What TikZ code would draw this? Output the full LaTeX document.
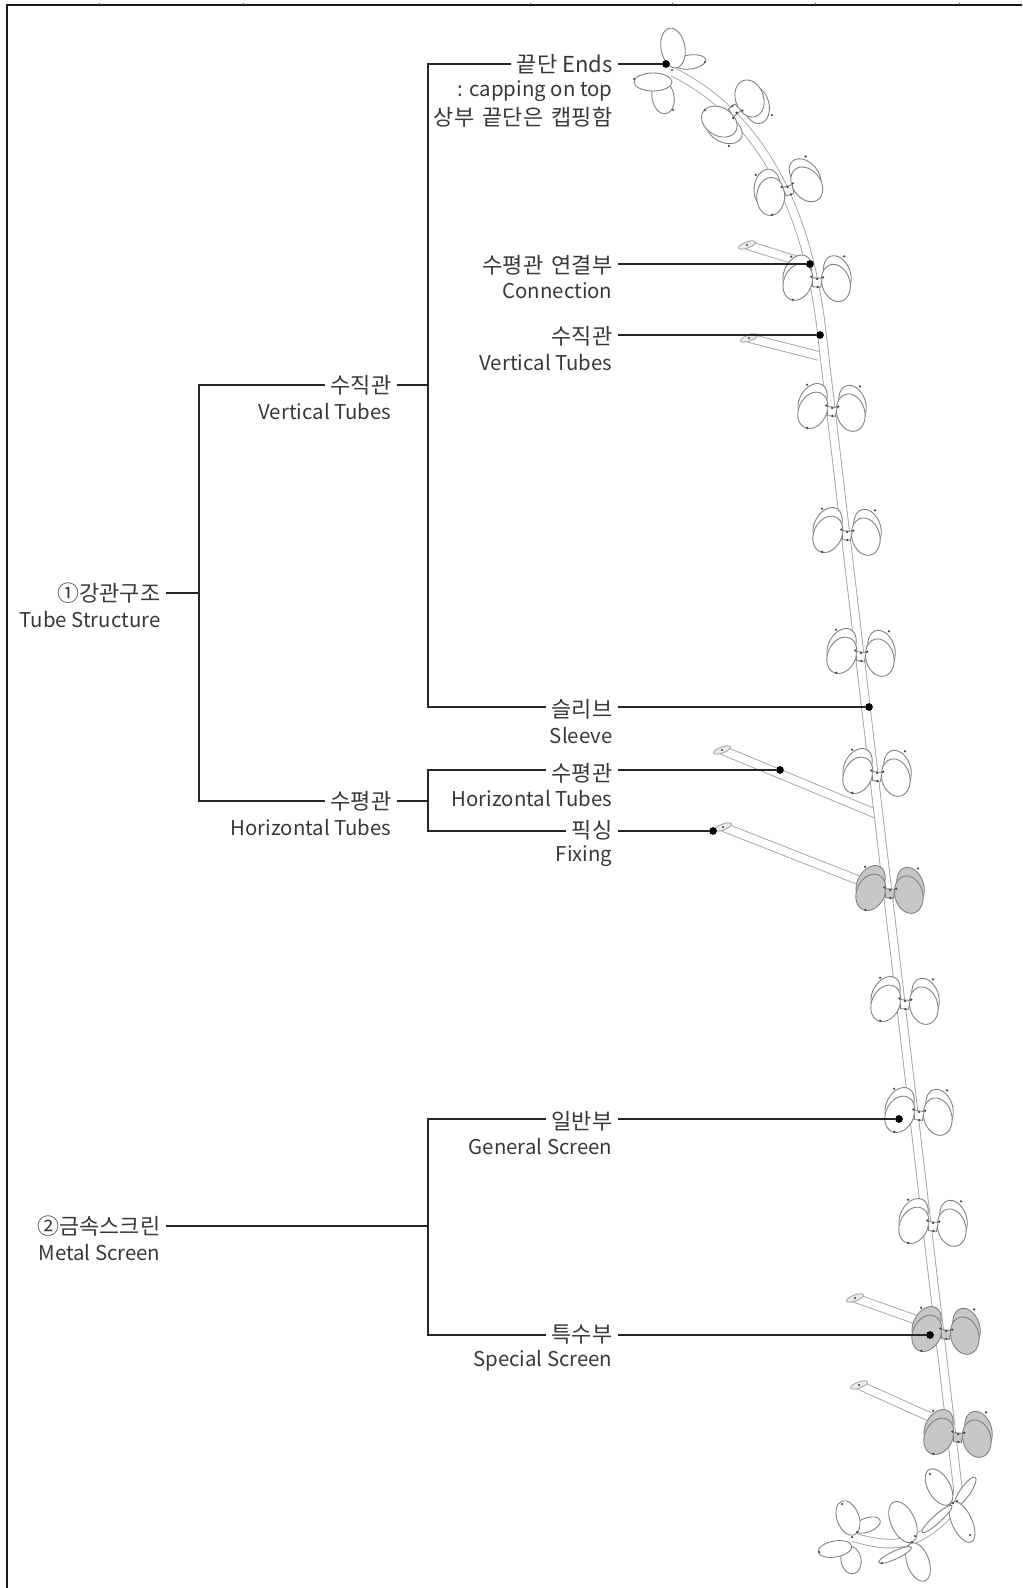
\documentclass[tikz,border=0pt]{standalone}
\usepackage{fontspec}
\setmainfont{Noto Sans CJK KR}
\tikzset{
  lab/.style={anchor=east, inner sep=3pt, text=black!78, font=\fontsize{12.5pt}{14pt}\selectfont},
  laben/.style={lab, font=\fontsize{11.6pt}{14pt}\selectfont},
  con/.style={line width=1.05pt, black!85},
  dotmark/.style={circle, fill=black, inner sep=0pt, minimum size=4.4pt},
  tipmark/.style={circle, fill=black!75, inner sep=0pt, minimum size=1.4pt},
  tube/.style={draw=black!36, line width=0.5pt, double=white, double distance=4.4pt},
  leaf/.style={draw=black!50, line width=0.5pt},
  flange/.style={draw=black!35, fill=black!8, line width=0.5pt},
}
% one pair of leaves: [scope options], x, y, rotation, fill
\newcommand{\leafpair}[5][]{
\begin{scope}[shift={(#2,#3)}, rotate=#4, #1]
\path[leaf, fill=#5] (-20,-6) circle [x radius=13, y radius=19, rotate=-24];
\path[leaf, fill=#5] (20,-7) circle [x radius=13, y radius=19, rotate=24];
\path[leaf, fill=#5] (-19,3) circle [x radius=14, y radius=19, rotate=-20];
\path[leaf, fill=#5] (19,2) circle [x radius=14, y radius=19, rotate=20];
\path[leaf, fill=#5] (-5,-2) -- (5,-2) -- (4,7) -- (-4,7) -- cycle;
\node[tipmark] at (-6,-3) {};
\node[tipmark] at (6,-3) {};
\node[tipmark] at (0,-1) {};
\node[tipmark] at (1,7) {};
\node[tipmark] at (-27,-22) {};
\node[tipmark] at (26,-25) {};
\node[tipmark] at (-23,21) {};
\end{scope}
}
% short side tube with its flange: free end, then tube end
\newcommand{\sidetube}[4]{
\draw[tube] (#1,#2) -- (#3,#4);
\path[flange] (#1,#2) circle [x radius=3, y radius=9, rotate=-70];
\node[tipmark] at (#1,#2) {};
}
\begin{document}
\begin{tikzpicture}[x=0.02cm, y=-0.02cm]
\useasboundingbox (0,0) rectangle (1022,1588);
% frame
\draw[line width=1.1pt, black!90] (7,1588) -- (7,5) -- (1022,5);
\foreach \x in {99,243,530,672,815,959}
  \draw[line width=0.4pt, black!70] (\x,3) -- (\x,5);
% side tubes
\sidetube{747}{245}{808}{264}
\sidetube{749}{338}{819}{356}
\sidetube{722}{750}{879}{815}
\sidetube{723}{827}{858}{880}
\sidetube{855}{1298}{917}{1320}
\sidetube{859}{1385}{930}{1417}
% main tube
\draw[tube] (673,72) .. controls (740,105) and (805,180) .. (822,335)
  -- (958,1490) .. controls (958,1510) and (935,1530) .. (912,1540)
  .. controls (895,1546) and (875,1544) .. (853,1537);
% top flower
\path[leaf, fill=white] (690,62) circle [x radius=16, y radius=7, rotate=8];
\path[leaf, fill=white] (663,97) circle [x radius=11, y radius=17, rotate=10];
\path[leaf, fill=white] (673,48) circle [x radius=12, y radius=20, rotate=10];
\path[leaf, fill=white] (653,82) circle [x radius=19, y radius=9, rotate=0];
\node[tipmark] at (705,62) {};
\node[tipmark] at (673,110) {};
\node[tipmark] at (634,79) {};
\node[tipmark] at (672,70) {};
% pairs of leaves along the tube
\leafpair[yscale=-1]{736}{112}{39}{white}
\leafpair{788}{188}{17}{white}
\leafpair{817}{280}{-3}{white}
\leafpair{832}{409}{-5}{white}
\leafpair{847}{533}{-5}{white}
\leafpair{861}{654}{-5}{white}
\leafpair{877}{774}{-5}{white}
\leafpair{890}{891}{-5}{black!22}
\leafpair{905}{1002}{-5}{white}
\leafpair{919}{1113}{-5}{white}
\leafpair{933}{1224}{-5}{white}
\leafpair{946}{1332}{-5}{black!22}
\leafpair{958}{1435}{-5}{black!22}
% bottom flowers
\path[leaf, fill=white] (965,1492) circle [x radius=5, y radius=18, rotate=-35];
\path[leaf, fill=white] (939,1487) circle [x radius=11, y radius=20, rotate=30];
\path[leaf, fill=white] (962,1522) circle [x radius=10, y radius=22, rotate=25];
\path[leaf, fill=white] (937,1519) circle [x radius=4, y radius=20, rotate=-48];
\path[leaf, fill=white] (903,1522) circle [x radius=12, y radius=22, rotate=25];
\path[leaf, fill=white] (918,1562) circle [x radius=11, y radius=20, rotate=20];
\path[leaf, fill=white] (895,1555) circle [x radius=4, y radius=18, rotate=-65];
\path[leaf, fill=white] (867,1525) circle [x radius=7, y radius=14, rotate=-70];
\path[leaf, fill=white] (848,1518) circle [x radius=11, y radius=18, rotate=20];
\path[leaf, fill=white] (851,1560) circle [x radius=10, y radius=14, rotate=10];
\path[leaf, fill=white] (835,1549) circle [x radius=17, y radius=8, rotate=10];
\node[tipmark] at (953,1503) {};
\node[tipmark] at (957,1501) {};
\node[tipmark] at (970,1535) {};
\node[tipmark] at (930,1474) {};
\node[tipmark] at (912,1542) {};
\node[tipmark] at (915,1536) {};
\node[tipmark] at (882,1563) {};
\node[tipmark] at (852,1537) {};
\node[tipmark] at (857,1532) {};
\node[tipmark] at (819,1552) {};
\node[tipmark] at (842,1504) {};
% labels
\node (ends) at (618,64)[lab]{끝단 Ends};
\node (capen) at (618,91)[laben]{: capping on top};
\node (capko) at (618,117)[lab]{상부\hspace{2pt} 끝단은\hspace{2pt} 캡핑함};
\node (joint) at (618,265)[lab]{수평관\hspace{2pt} 연결부};
\node (jointen) at (618,291)[laben]{Connection};
\node (vert) at (618,336)[lab]{수직관};
\node (verten) at (618,363)[laben]{Vertical Tubes};
\node (sleeve) at (618,709)[lab]{슬리브};
\node (sleeveen) at (618,736)[laben]{Sleeve};
\node (horiz) at (618,773)[lab]{수평관};
\node (horizen) at (618,799)[laben]{Horizontal Tubes};
\node (fixing) at (618,830)[lab]{픽싱};
\node (fixingen) at (618,856)[laben]{Fixing};
\node (general) at (618,1121)[lab]{일반부};
\node (generalen) at (618,1147)[laben]{General Screen};
\node (special) at (618,1335)[lab]{특수부};
\node (specialen) at (618,1361)[laben]{Special Screen};
\node (vtube) at (397,385)[lab]{수직관};
\node (vtubeen) at (397,412)[laben]{Vertical Tubes};
\node (htube) at (397,801)[lab]{수평관};
\node (htubeen) at (397,828)[laben]{Horizontal Tubes};
\node (steel) at (166,593)[lab]{①강관구조};
\node (steelen) at (166,620)[laben]{Tube Structure};
\node (metal) at (166,1226)[lab]{②금속스크린};
\node (metalen) at (166,1253)[laben]{Metal Screen};
% pointer dots
\node (endsdot) at (666,64)[dotmark]{};
\node (jointdot) at (810,264)[dotmark]{};
\node (vertdot) at (820,335)[dotmark]{};
\node (sleevedot) at (869,707)[dotmark]{};
\node (horizdot) at (780,770)[dotmark]{};
\node (fixingdot) at (713,831)[dotmark]{};
\node (generaldot) at (899,1119)[dotmark]{};
\node (specialdot) at (930,1335)[dotmark]{};
% corners of the brackets
\coordinate (a1) at (428,64);
\coordinate (a2) at (428,707);
\coordinate (a3) at (428,385);
\coordinate (b1) at (428,770);
\coordinate (b2) at (428,831);
\coordinate (b3) at (428,801);
\coordinate (c1) at (199,385);
\coordinate (c2) at (199,801);
\coordinate (c3) at (199,593);
\coordinate (d1) at (428,1119);
\coordinate (d2) at (428,1335);
\coordinate (d3) at (428,1226);
% connectors
\draw[con] (ends.east |- endsdot) -- (endsdot);
\draw[con] (joint.east |- jointdot) -- (jointdot);
\draw[con] (vert.east |- vertdot) -- (vertdot);
\draw[con] (sleeve.east |- sleevedot) -- (sleevedot);
\draw[con] (horiz.east |- horizdot) -- (horizdot);
\draw[con] (fixing.east |- fixingdot) -- (fixingdot);
\draw[con] (general.east |- generaldot) -- (generaldot);
\draw[con] (special.east |- specialdot) -- (specialdot);
\draw[con] (ends.west |- a1) -- (a1) -- (a2) -- (sleeve.west |- a2);
\draw[con] (vtube.east |- a3) -- (a3);
\draw[con] (horiz.west |- b1) -- (b1) -- (b2) -- (fixing.west |- b2);
\draw[con] (htube.east |- b3) -- (b3);
\draw[con] (vtube.west |- c1) -- (c1) -- (c2) -- (htube.west |- c2);
\draw[con] (steel.east |- c3) -- (c3);
\draw[con] (general.west |- d1) -- (d1) -- (d2) -- (special.west |- d2);
\draw[con] (metal.east |- d3) -- (d3);
\end{tikzpicture}
\end{document}
